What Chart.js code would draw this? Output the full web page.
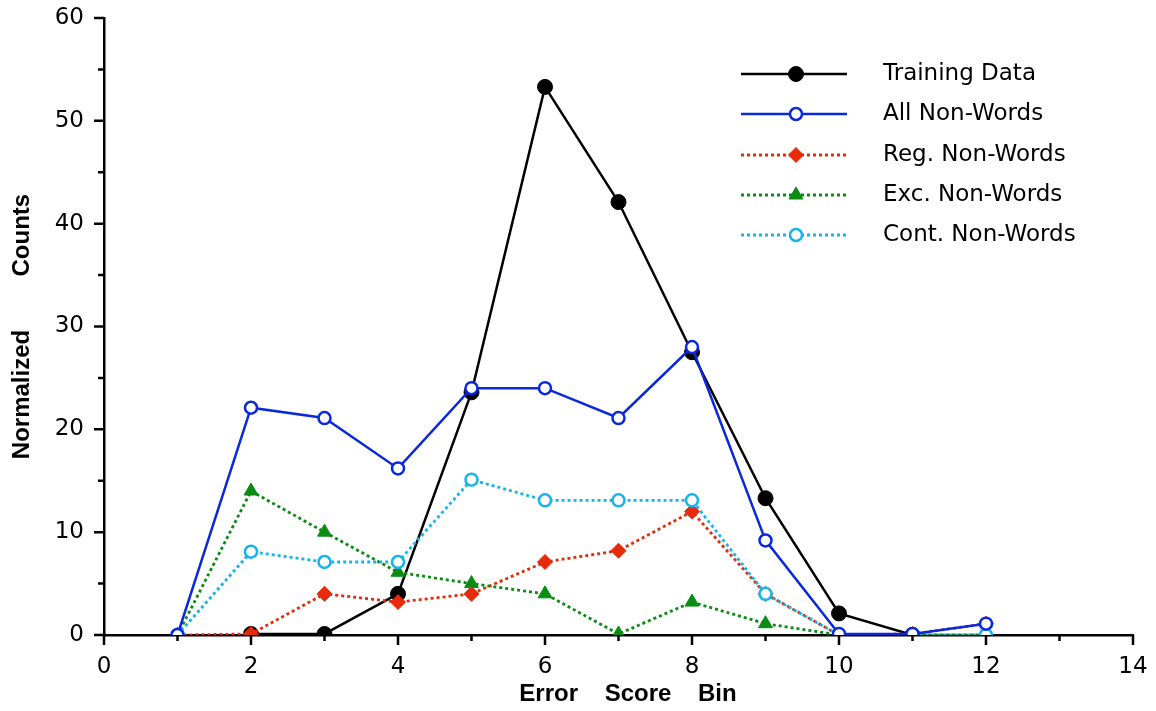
<!DOCTYPE html>
<html>
<head>
<meta charset="utf-8">
<script src="https://cdn.jsdelivr.net/npm/chart.js@4/dist/chart.umd.min.js"></script>
<style>
  html, body { margin: 0; padding: 0; background: #fff; }
  #wrap { position: relative; width: 1156px; height: 711px; }
</style>
</head>
<body>
<div id="wrap"><canvas id="c" width="1156" height="711"></canvas></div>
<script>
// Error score bins
const bins = [1, 2, 3, 4, 5, 6, 7, 8, 9, 10, 11, 12];

// Normalized counts per bin for each set
const trainingData = [null, 0.1, 0.1, 4.0, 23.6, 53.3, 42.1, 27.5, 13.3, 2.1, 0.0, null];
const allNonWords  = [0.0, 22.1, 21.1, 16.2, 24.0, 24.0, 21.1, 28.0, 9.2, 0.1, 0.1, 1.1];
const regNonWords  = [0.0, 0.1, 4.0, 3.2, 4.0, 7.1, 8.2, 12.0, 4.0, 0.0, 0.1, 1.1];
const excNonWords  = [0.0, 14.0, 10.0, 6.1, 5.0, 4.0, 0.1, 3.2, 1.1, 0.0, 0.0, 0.0];
const contNonWords = [0.0, 8.1, 7.1, 7.1, 15.1, 13.1, 13.1, 13.1, 4.0, 0.0, 0.0, 0.0];

const seriesNames = ['Training Data', 'All Non-Words', 'Reg. Non-Words', 'Exc. Non-Words', 'Cont. Non-Words'];

// Axis ticks and titles
const xMajorTicks = [0, 2, 4, 6, 8, 10, 12, 14];
const xMinorTicks = [1, 3, 5, 7, 9, 11, 13];
const yMajorTicks = [0, 10, 20, 30, 40, 50, 60];
const yMinorTicks = [5, 15, 25, 35, 45, 55];
const xTitle = 'Error    Score    Bin';
const yTitle = 'Normalized        Counts';

const tickFontCss = '23px "DejaVu Sans"';
const titleFontCss = 'bold 24px "Liberation Sans"';

const toPts = arr => bins.map((b, i) => ({ x: b, y: arr[i] }));

const styles = [
  { color: '#000000', fill: '#000000', point: 'circle', dash: [], lw: 2.5, r: 7.5, bw: 1 },
  { color: '#0a28dc', fill: '#ffffff', point: 'circle', dash: [], lw: 2.5, r: 6, bw: 2.5 },
  { color: '#e62a0a', fill: '#e62a0a', point: 'rectRot', dash: [3, 3], lw: 2.8, r: 7.5, bw: 1 },
  { color: '#0a8c14', fill: '#0a8c14', point: 'triangle', dash: [3, 3], lw: 2.8, r: 8, bw: 1 },
  { color: '#14b4ec', fill: '#ffffff', point: 'circle', dash: [3, 3], lw: 2.8, r: 6, bw: 2.5 }
];
const values = [trainingData, allNonWords, regNonWords, excNonWords, contNonWords];

const datasets = values.map((v, i) => ({
  label: seriesNames[i],
  data: toPts(v),
  borderColor: styles[i].color,
  backgroundColor: styles[i].fill,
  pointBackgroundColor: styles[i].fill,
  pointBorderColor: styles[i].color,
  pointBorderWidth: styles[i].bw,
  pointRadius: styles[i].r,
  pointStyle: styles[i].point,
  borderWidth: styles[i].lw,
  borderDash: styles[i].dash,
  showLine: true,
  spanGaps: false,
  tension: 0,
  order: [5, 1, 3, 4, 2][i]
}));

// Axis tick marks, tick labels, axis titles and the legend box
const decorations = {
  id: 'decorations',
  afterDatasetsDraw(chart) {
    const ctx = chart.ctx;
    const xs = chart.scales.x, ys = chart.scales.y;
    const x0 = xs.getPixelForValue(0), y0 = ys.getPixelForValue(0);
    ctx.save();
    ctx.strokeStyle = '#000';
    ctx.lineWidth = 2.5;
    ctx.setLineDash([]);
    ctx.beginPath();
    xMajorTicks.forEach(t => { const p = xs.getPixelForValue(t); ctx.moveTo(p, y0); ctx.lineTo(p, y0 + 10); });
    xMinorTicks.forEach(t => { const p = xs.getPixelForValue(t); ctx.moveTo(p, y0); ctx.lineTo(p, y0 + 6); });
    yMajorTicks.forEach(t => { const p = ys.getPixelForValue(t); ctx.moveTo(x0, p); ctx.lineTo(x0 - 10, p); });
    yMinorTicks.forEach(t => { const p = ys.getPixelForValue(t); ctx.moveTo(x0, p); ctx.lineTo(x0 - 6, p); });
    ctx.stroke();

    // tick labels
    ctx.fillStyle = '#000';
    ctx.font = tickFontCss;
    ctx.textBaseline = 'middle';
    ctx.textAlign = 'center';
    xMajorTicks.forEach(t => ctx.fillText(String(t), xs.getPixelForValue(t), y0 + 32));
    ctx.textAlign = 'right';
    yMajorTicks.forEach(t => ctx.fillText(String(t), x0 - 20, ys.getPixelForValue(t)));

    // axis titles
    ctx.font = titleFontCss;
    ctx.textAlign = 'center';
    ctx.fillText(xTitle, 628, 694);
    ctx.save();
    ctx.translate(22, (ys.top + ys.bottom) / 2);
    ctx.rotate(-Math.PI / 2);
    ctx.fillText(yTitle, 0, 0);
    ctx.restore();

    // legend
    const lx0 = 741, lx1 = 847, mx = 796, tx = 883;
    const rowY = [74, 114, 155, 195, 235];
    ctx.font = tickFontCss;
    ctx.textAlign = 'left';
    seriesNames.forEach((name, i) => {
      const s = styles[i], y = rowY[i];
      ctx.strokeStyle = s.color;
      ctx.lineWidth = s.lw;
      ctx.setLineDash(s.dash);
      ctx.beginPath(); ctx.moveTo(lx0, y); ctx.lineTo(lx1, y); ctx.stroke();
      ctx.setLineDash([]);
      ctx.fillStyle = s.fill;
      ctx.strokeStyle = s.color;
      ctx.lineWidth = s.bw;
      Chart.helpers.drawPoint(ctx, { pointStyle: s.point, radius: s.r, borderWidth: s.bw, rotation: 0 }, mx, y);
      ctx.fillStyle = '#000';
      ctx.fillText(name, tx, y);
    });
    ctx.restore();
  }
};

new Chart(document.getElementById('c'), {
  type: 'scatter',
  data: { datasets },
  options: {
    responsive: false,
    animation: false,
    layout: { padding: { top: 18, right: 23, left: 0, bottom: 0 } },
    plugins: { legend: { display: false }, tooltip: { enabled: false } },
    scales: {
      x: {
        type: 'linear', min: 0, max: 14,
        afterBuildTicks: s => { s.ticks = xMajorTicks.map(v => ({ value: v })); },
        afterFit: s => { s.height = 76; s.paddingLeft = 0; s.paddingRight = 0; },
        grid: { display: false, drawTicks: false },
        border: { display: true, color: '#000', width: 2.5 },
        ticks: { display: false }
      },
      y: {
        type: 'linear', min: 0, max: 60,
        afterBuildTicks: s => { s.ticks = yMajorTicks.map(v => ({ value: v })); },
        afterFit: s => { s.width = 104; s.paddingTop = 0; s.paddingBottom = 0; },
        grid: { display: false, drawTicks: false },
        border: { display: true, color: '#000', width: 2.5 },
        ticks: { display: false }
      }
    }
  },
  plugins: [decorations]
});
</script>
</body>
</html>
